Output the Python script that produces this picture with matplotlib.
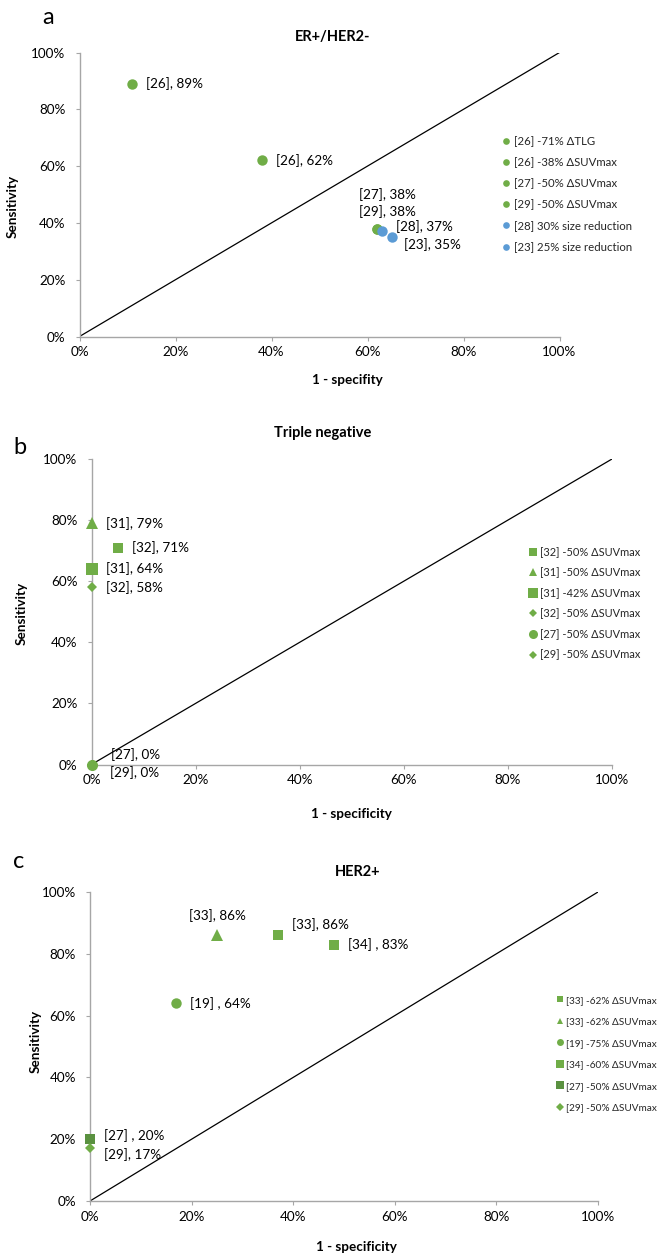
import matplotlib
matplotlib.use('Agg')
import matplotlib.pyplot as plt
from matplotlib.lines import Line2D
from matplotlib.ticker import PercentFormatter

# ---------------- data ----------------
GREEN = '#70AD47'
BLUE = '#5B9BD5'
DKGREEN = '#5A9140'

# Panel a: ER+/HER2-
a_legend = ['[26] -71% ΔTLG', '[26] -38% ΔSUVmax', '[27] -50% ΔSUVmax',
            '[29] -50% ΔSUVmax', '[28] 30% size reduction', '[23] 25% size reduction']
a_fpr = [0.11, 0.38, 0.62, 0.62, 0.63, 0.65]
a_sens = [0.89, 0.62, 0.38, 0.38, 0.37, 0.35]
a_marker = ['o', 'o', 'o', 'o', 'o', 'o']
a_color = [GREEN, GREEN, GREEN, GREEN, BLUE, BLUE]
a_annot = ['[26], 89%', '[26], 62%', '[27], 38%', '[29], 38%', '[28], 37%', '[23], 35%']

# Panel b: Triple negative
b_legend = ['[32] -50% ΔSUVmax', '[31] -50% ΔSUVmax', '[31] -42% ΔSUVmax',
            '[32] -50% ΔSUVmax', '[27] -50% ΔSUVmax', '[29] -50% ΔSUVmax']
b_fpr = [0.05, 0.0, 0.0, 0.0, 0.0, 0.0]
b_sens = [0.71, 0.79, 0.64, 0.58, 0.0, 0.0]
b_marker = ['s', '^', 's', 'D', 'o', 'D']
b_color = [GREEN] * 6
b_annot = ['[32], 71%', '[31], 79%', '[31], 64%', '[32], 58%', '[27], 0%', '[29], 0%']

# Panel c: HER2+
c_legend = ['[33] -62% ΔSUVmax', '[33] -62% ΔSUVmax', '[19] -75% ΔSUVmax',
            '[34] -60% ΔSUVmax', '[27] -50% ΔSUVmax', '[29] -50% ΔSUVmax']
c_fpr = [0.37, 0.25, 0.17, 0.48, 0.0, 0.0]
c_sens = [0.86, 0.86, 0.64, 0.83, 0.20, 0.17]
c_marker = ['s', '^', 'o', 's', 's', 'D']
c_color = [GREEN, GREEN, GREEN, GREEN, DKGREEN, GREEN]
c_annot = ['[33], 86%', '[33], 86%', '[19] , 64%', '[34] , 83%', '[27] , 20%', '[29], 17%']

diag = [0.0, 1.0]
ticks = [0.0, 0.2, 0.4, 0.6, 0.8, 1.0]

# ---------------- layout ----------------
W, H = 657, 1254
plt.rcParams['font.family'] = ['Lato', 'DejaVu Sans']
fig = plt.figure(figsize=(W / 100, H / 100), dpi=100)
SPINE = '#A6A6A6'
PX = 0.72  # points per pixel


def axes_px(l, t, r, b):
    return fig.add_axes([l / W, 1 - b / H, (r - l) / W, (b - t) / H])


def style(ax):
    ax.set_xlim(0, 1)
    ax.set_ylim(0, 1)
    ax.set_xticks(ticks)
    ax.set_yticks(ticks)
    ax.xaxis.set_major_formatter(PercentFormatter(1.0, decimals=0))
    ax.yaxis.set_major_formatter(PercentFormatter(1.0, decimals=0))
    for s in ['top', 'right']:
        ax.spines[s].set_visible(False)
    for s in ['left', 'bottom']:
        ax.spines[s].set_color(SPINE)
        ax.spines[s].set_linewidth(1.0)
    ax.tick_params(axis='both', direction='out', length=3, width=0.8, color=SPINE,
                   labelsize=9.7, labelcolor='#000000')
    ax.tick_params(axis='x', pad=4)
    ax.tick_params(axis='y', pad=7)
    ax.plot(diag, diag, color='black', lw=0.9, zorder=2)


def px_text(x, y, s, **kw):
    fig.text(x / W, 1 - y / H, s, **kw)


def draw(ax, fpr, sens, markers, colors, annots, offsets, sizes):
    for x, y, m, c, sz in zip(fpr, sens, markers, colors, sizes):
        ax.plot([x], [y], marker=m, color=c, markersize=sz, linestyle='',
                clip_on=False, zorder=4, markeredgewidth=0)
    for x, y, t, (dx, dy, ha) in zip(fpr, sens, annots, offsets):
        ax.annotate(t, xy=(x, y), xytext=(dx * PX, -dy * PX), textcoords='offset points',
                    ha=ha, va='center', fontsize=9.7, color='#000000',
                    annotation_clip=False, zorder=5)


def legend_px(handles, labels, marker_x, text_x, first_y, spacing, fs):
    fs_px = fs / PX
    hl = 0.8
    left = marker_x - hl * fs_px / 2
    htp = (text_x - (left + hl * fs_px)) / fs_px
    row_h = 1.2 * fs_px
    ls = (spacing - row_h) / fs_px
    top = first_y - row_h / 2
    fig.legend(handles, labels, loc='upper left', bbox_to_anchor=(left / W, 1 - top / H),
               bbox_transform=fig.transFigure, frameon=False, fontsize=fs,
               handlelength=hl, handletextpad=htp, labelspacing=ls, borderpad=0,
               borderaxespad=0, labelcolor='#262626')


def handles_for(markers, colors, sizes):
    return [Line2D([], [], marker=m, color=c, linestyle='', markersize=s, markeredgewidth=0)
            for m, c, s in zip(markers, colors, sizes)]


# ---- panel a ----
axa = axes_px(79.5, 52.5, 559.5, 336.5)
style(axa)
draw(axa, a_fpr, a_sens, a_marker, a_color, a_annot,
     [(14, 0, 'left'), (14, 0, 'left'), (10, -34, 'center'), (10, -17.5, 'center'),
      (14, -5, 'left'), (12, 7, 'left')],
     [7.5] * 6)
px_text(48, 18, 'a', fontsize=17, ha='center', va='center')
px_text(333, 37, 'ER+/HER2-', fontsize=10.5, fontweight='bold', ha='center', va='center')
px_text(347, 380, '1 - specifity', fontsize=9.7, fontweight='bold', ha='center', va='center')
px_text(13, 206, 'Sensitivity', fontsize=9.7, fontweight='bold', ha='center', va='center',
        rotation=90)
legend_px(handles_for(a_marker, a_color, [4.8] * 6), a_legend, 506, 514.3, 142.7, 23.8, 8.2)

# ---- panel b ----
axb = axes_px(91.5, 459, 612, 764.5)
style(axb)
draw(axb, b_fpr, b_sens, b_marker, b_color, b_annot,
     [(14, 0, 'left'), (14, 0, 'left'), (14, 0, 'left'), (14, 0, 'left'),
      (19.5, -10, 'left'), (18, 8, 'left')],
     [7.5, 8.8, 8, 5.5, 8, 5.5])
px_text(20, 448, 'b', fontsize=17, ha='center', va='center')
px_text(322.6, 432.7, 'Triple negative', fontsize=10.5, fontweight='bold', ha='center', va='center')
px_text(351, 814, '1 - specificity', fontsize=9.7, fontweight='bold', ha='center', va='center')
px_text(21.8, 613, 'Sensitivity', fontsize=9.7, fontweight='bold', ha='center', va='center',
        rotation=90)
legend_px(handles_for(b_marker, b_color, [5.5, 5.5, 6.5, 4.2, 6.5, 4.2]), b_legend,
          533, 540.4, 553.3, 22.7, 7.9)

# ---- panel c ----
axc = axes_px(90, 892, 598, 1201)
style(axc)
draw(axc, c_fpr, c_sens, c_marker, c_color, c_annot,
     [(14, -11, 'left'), (0, -20, 'center'), (14, 0, 'left'), (14, 0, 'left'),
      (14, -4, 'left'), (14, 6.5, 'left')],
     [7.5, 8.8, 7.5, 7.5, 7.5, 5.5])
px_text(19, 862, 'c', fontsize=17, ha='center', va='center')
px_text(358, 872, 'HER2+', fontsize=10.5, fontweight='bold', ha='center', va='center')
px_text(356, 1247, '1 - specificity', fontsize=9.7, fontweight='bold', ha='center', va='center')
px_text(35.6, 1041.7, 'Sensitivity', fontsize=9.7, fontweight='bold', ha='center', va='center',
        rotation=90)
legend_px(handles_for(c_marker, c_color, [5, 5, 5, 5.5, 5.5, 3.8]), c_legend, 559.7, 566.3,
          1001.7, 24.5, 7.2)

fig.savefig('out.png', dpi=100)
